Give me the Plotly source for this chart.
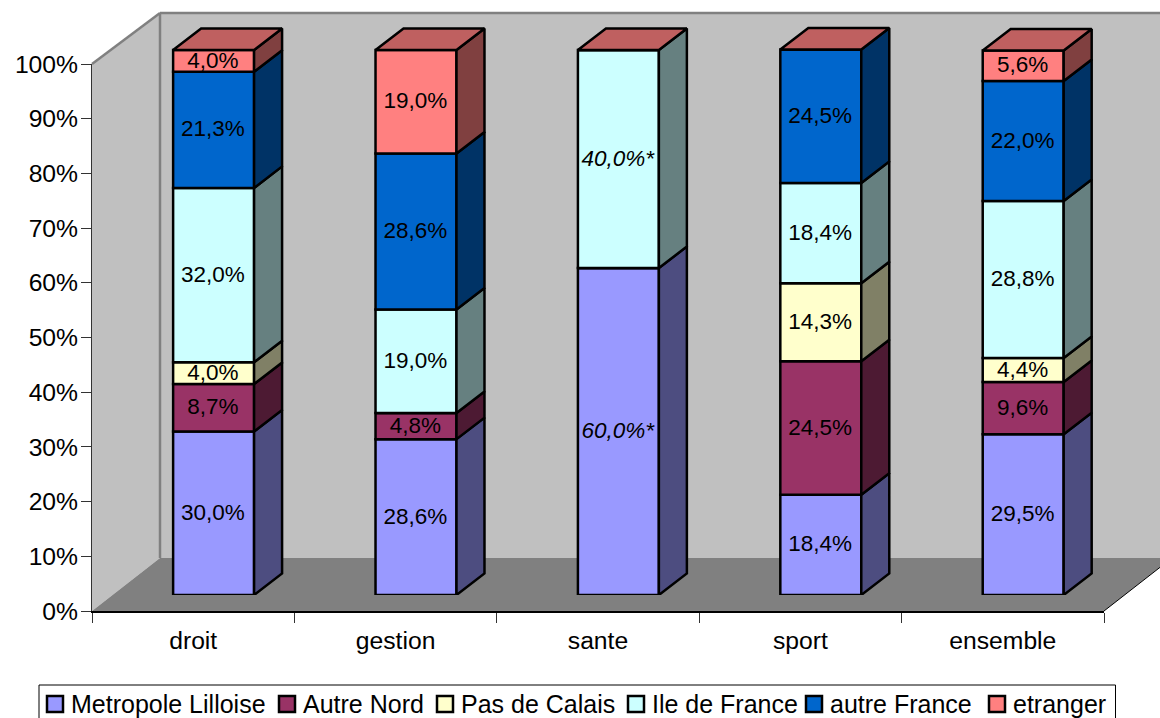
import plotly.graph_objects as go

categories = ["droit", "gestion", "sante", "sport", "ensemble"]
series_names = ["Metropole Lilloise", "Autre Nord", "Pas de Calais", "Ile de France", "autre France", "etranger"]
metropole = [30.0, 28.6, 60.0, 18.4, 29.5]
autre_nord = [8.7, 4.8, 0, 24.5, 9.6]
pas_de_calais = [4.0, 0, 0, 14.3, 4.4]
ile_de_france = [32.0, 19.0, 40.0, 18.4, 28.8]
autre_france = [21.3, 28.6, 0, 24.5, 22.0]
etranger = [4.0, 19.0, 0, 0, 5.6]
series_values = [metropole, autre_nord, pas_de_calais, ile_de_france, autre_france, etranger]
starred = ["sante"]
y_ticks = [0, 10, 20, 30, 40, 50, 60, 70, 80, 90, 100]

front = ["#9999FF", "#993366", "#FFFFCC", "#CCFFFF", "#0066CC", "#FF8080"]
side = ["#4D4D80", "#4D1A33", "#808066", "#668080", "#003366", "#804040"]
top_col = "#BF6060"

W, H = 1160, 718
X0, X1, Y0, Y100 = 92, 1104, 611, 64
DX = 68
WALL_TOP, WALL_BOTTOM = 13, 558
BX0, BY0 = 112.4, 595
BAR_PX_Y = 5.45
CAT_PX = (X1 - X0) / 5
BAR_W = 0.4
DEPTH_X = 28 / CAT_PX
DEPTH_Y = 21.5 / BAR_PX_Y
TOP_RANGE = 105
LABEL_NUDGE = 0.18
LABEL_NUDGE_X = 0.003
LINE_W = 2.5
FONT = "Liberation Sans"


def fx(p):
    return p / W


def fy(p):
    return 1 - p / H


def path(pts):
    return "M" + "L".join(f"{fx(x):.5f},{fy(y):.5f}" for x, y in pts) + "Z"


fig = go.Figure()

# invisible trace keeps the category axis alive
fig.add_trace(go.Scatter(x=categories, y=[0] * 5, mode="markers", marker=dict(opacity=0),
                         showlegend=False, hoverinfo="skip", xaxis="x", yaxis="y"))

xs = list(range(len(categories)))
base = [0.0] * 5
text_traces = []
for name, vals, fc, sc in zip(series_names, series_values, front, side):
    fig.add_trace(go.Bar(x=xs, y=vals, base=base, name=name, width=BAR_W,
                         marker=dict(color=fc, line=dict(color="black", width=LINE_W)),
                         showlegend=False, xaxis="x2", yaxis="y2"))
    px, py = [], []
    tx, ty, tt = [], [], []
    for i, v in enumerate(vals):
        if v <= 0:
            continue
        r = i + BAR_W / 2
        b = base[i]
        t = b + v
        px += [r, r + DEPTH_X, r + DEPTH_X, r, r, None]
        py += [b, b + DEPTH_Y, t + DEPTH_Y, t, b, None]
        tx.append(i - LABEL_NUDGE_X)
        ty.append(b + v / 2 - LABEL_NUDGE)
        s = f"{v:.1f}".replace(".", ",") + "%"
        tt.append(f"<i>{s}*</i>" if categories[i] in starred else s)
    fig.add_trace(go.Scatter(x=px, y=py, mode="lines", fill="toself", fillcolor=sc,
                             line=dict(color="black", width=LINE_W), showlegend=False,
                             hoverinfo="skip", xaxis="x2", yaxis="y2"))
    text_traces.append(go.Scatter(x=tx, y=ty, mode="text", text=tt, textposition="middle center",
                                  textfont=dict(family=FONT, size=22.5, color="black"),
                                  showlegend=False, hoverinfo="skip", xaxis="x2", yaxis="y2"))
    base = [a + b for a, b in zip(base, vals)]

# top faces of the stacks
px, py = [], []
for i, t in enumerate(base):
    l, r = i - BAR_W / 2, i + BAR_W / 2
    px += [l, l + DEPTH_X, r + DEPTH_X, r, l, None]
    py += [t, t + DEPTH_Y, t + DEPTH_Y, t, t, None]
fig.add_trace(go.Scatter(x=px, y=py, mode="lines", fill="toself", fillcolor=top_col,
                         line=dict(color="black", width=LINE_W), showlegend=False,
                         hoverinfo="skip", xaxis="x2", yaxis="y2"))
for t in text_traces:
    fig.add_trace(t)

GRAY = "#808080"
shapes = [
    dict(type="path", xref="paper", yref="paper", layer="below", fillcolor="#C0C0C0",
         line=dict(width=0),
         path=path([(X0 + DX, WALL_TOP), (W + 20, WALL_TOP), (W + 20, WALL_BOTTOM), (X0 + DX, WALL_BOTTOM)])),
    dict(type="path", xref="paper", yref="paper", layer="below", fillcolor="#C0C0C0",
         line=dict(width=0),
         path=path([(X0, Y100), (X0 + DX, WALL_TOP), (X0 + DX, WALL_BOTTOM), (X0, Y0)])),
    dict(type="line", xref="paper", yref="paper", layer="below", line=dict(color=GRAY, width=2.5),
         x0=fx(X0), x1=fx(X0 + DX), y0=fy(Y100), y1=fy(WALL_TOP)),
    dict(type="line", xref="paper", yref="paper", layer="below", line=dict(color=GRAY, width=2.5),
         x0=fx(X0 + DX), x1=fx(X0 + DX), y0=fy(WALL_TOP), y1=fy(WALL_BOTTOM)),
    dict(type="line", xref="paper", yref="paper", layer="below", line=dict(color=GRAY, width=2.5),
         x0=fx(X0 + DX), x1=fx(W + 20), y0=fy(WALL_TOP), y1=fy(WALL_TOP)),
    dict(type="path", xref="paper", yref="paper", layer="below", fillcolor=GRAY,
         line=dict(width=0),
         path=path([(X0, Y0), (X0 + DX, WALL_BOTTOM), (X1 + DX, WALL_BOTTOM), (X1, Y0)])),
    dict(type="line", xref="paper", yref="paper", layer="below", line=dict(color="black", width=1),
         x0=fx(X1), x1=fx(X1 + DX), y0=fy(Y0), y1=fy(WALL_BOTTOM)),
    dict(type="rect", xref="paper", yref="paper", layer="below", fillcolor="white",
         line=dict(color="black", width=1),
         x0=fx(39), x1=fx(1115.5), y0=fy(685), y1=fy(H + 10)),
]

legend_swatch_px = [47, 279, 437, 628, 806, 989]
annotations = []
for name, color, sx in zip(series_names, front, legend_swatch_px):
    shapes.append(dict(type="rect", xref="paper", yref="paper", fillcolor=color,
                       line=dict(color="black", width=2.5),
                       x0=fx(sx), x1=fx(sx + 16), y0=fy(696), y1=fy(712)))
    annotations.append(dict(text=name, xref="paper", yref="paper", x=fx(sx + 22), y=fy(704),
                            xanchor="left", yanchor="middle", showarrow=False,
                            font=dict(family=FONT, size=25, color="black")))

tick_font = dict(family=FONT, size=24.7, color="black")
fig.update_layout(
    template="none",
    width=W, height=H, autosize=False,
    margin=dict(l=0, r=0, t=0, b=0, pad=0),
    paper_bgcolor="white", plot_bgcolor="rgba(0,0,0,0)",
    font=dict(family=FONT),
    showlegend=False,
    barmode="overlay",
    shapes=shapes,
    annotations=annotations,
    xaxis=dict(domain=[fx(X0), fx(X1)], type="category", categoryorder="array",
               categoryarray=categories, range=[-0.5, 4.5], tickson="boundaries",
               ticks="outside", ticklen=10, tickwidth=1, tickcolor="#333333",
               showline=True, linecolor="black", linewidth=2, showgrid=False, zeroline=False,
               automargin=False, tickfont=tick_font, anchor="y", ticklabelstandoff=6),
    yaxis=dict(domain=[1 - Y0 / H, 1 - Y100 / H], range=[0, 100], tickvals=y_ticks,
               ticktext=[f"{t}%" for t in y_ticks], ticks="outside", ticklen=10, tickwidth=1,
               tickcolor="#333333", showline=True, linecolor="#333333", linewidth=1,
               showgrid=False, zeroline=False, automargin=False, tickfont=tick_font, anchor="x",
               ticklabelstandoff=-2),
    xaxis2=dict(domain=[fx(BX0), fx(BX0 + 5 * CAT_PX)], range=[-0.5, 4.5], visible=False,
                automargin=False, anchor="y2"),
    yaxis2=dict(domain=[1 - BY0 / H, 1 - (BY0 - TOP_RANGE * BAR_PX_Y) / H], range=[0, TOP_RANGE],
                visible=False, automargin=False, anchor="x2"),
)

fig.write_html("out.html", config=dict(displayModeBar=False),
               post_script="document.body.style.margin='0';document.documentElement.style.overflow='hidden';")
